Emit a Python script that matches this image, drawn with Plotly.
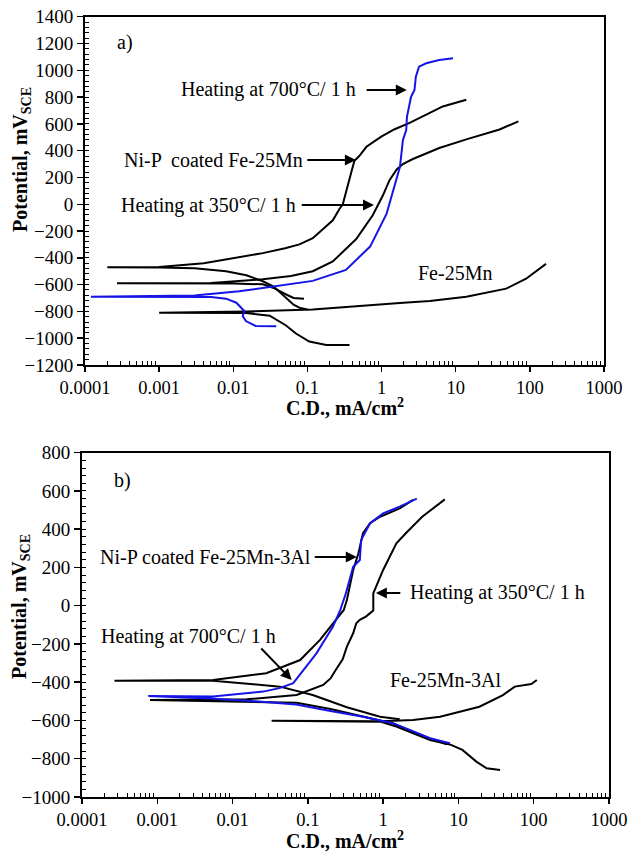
import numpy as np
import plotly.graph_objects as go

# ---------------- data: panel a) Fe-25Mn ----------------
a_nip_x = [0.1, 0.08, 0.065, 0.055, 0.045, 0.035, 0.025, 0.015, 0.008, 0.003, 0.001, 0.0002,
           0.001, 0.004, 0.009, 0.025, 0.05, 0.078, 0.118, 0.15, 0.22, 0.27, 0.3, 0.37, 0.43, 0.5,
           0.625, 0.99, 1.5, 2.39, 4.47, 6.7, 13.9]
a_nip_y = [-785, -775, -750, -715, -670, -615, -575, -530, -500, -478, -472, -470,
           -468, -440, -405, -365, -328, -300, -254, -205, -120, -35, 0, 190, 325, 360,
           429, 505, 560, 607, 681, 730, 780]

a_h350_x = [0.09, 0.065, 0.05, 0.035, 0.025, 0.01, 0.00027,
            0.005, 0.025, 0.06, 0.118, 0.22, 0.455, 0.76, 1.04, 1.28, 1.6, 1.94, 2.6, 6.0, 13.9, 39, 70]
a_h350_y = [-705, -700, -670, -625, -598, -592, -590,
            -588, -560, -535, -500, -427, -260, -82, 65, 180, 260, 300, 336, 420, 484, 558, 619]

a_h700_x = [0.038, 0.02, 0.0148, 0.0134, 0.0141, 0.011, 0.008, 0.005, 0.00012,
            0.003, 0.012, 0.0275, 0.118, 0.33, 0.7, 1.17, 1.58, 1.77, 1.94, 2.15, 2.2, 2.5, 2.78,
            2.9, 3.2, 4.0, 6.0, 9.2]
a_h700_y = [-910, -908, -872, -835, -797, -735, -705, -692, -690,
            -682, -650, -622, -572, -490, -316, -70, 173, 280, 479, 554, 653, 803, 853,
            952, 1027, 1052, 1077, 1089]

a_fe_x = [0.37, 0.18, 0.106, 0.07, 0.0515, 0.031, 0.015, 0.001,
          0.015, 0.118, 1.76, 4.47, 13.9, 48, 89, 165]
a_fe_y = [-1050, -1050, -1025, -965, -905, -832, -812, -810,
          -800, -785, -738, -722, -691, -630, -556, -445]

# ---------------- data: panel b) Fe-25Mn-3Al ----------------
b_nip_x = [1.66, 0.91, 0.33, 0.116, 0.0425, 0.0055, 0.00027,
           0.0055, 0.028, 0.079, 0.145, 0.24, 0.30, 0.33, 0.40, 0.47, 0.54, 0.67, 0.91, 1.66, 2.5]
b_nip_y = [-594, -580, -531, -467, -423, -392, -392,
           -388, -353, -284, -179, -74, -22, 30, 187, 274, 379, 431, 465, 509, 553]

b_h700_x = [7.7, 4.2, 1.35, 0.5, 0.2, 0.07, 0.02, 0.005, 0.00076,
            0.0055, 0.0255, 0.042, 0.064, 0.087, 0.13, 0.215, 0.27, 0.32, 0.40, 0.49, 0.51,
            0.67, 1.0, 1.66, 2.8]
b_h700_y = [-719, -693, -614, -578, -550, -517, -500, -485, -472,
            -475, -449, -431, -405, -336, -249, -110, -22, 65, 204, 239, 344,
            431, 483, 518, 560]

b_h350_x = [7.0, 4.2, 1.35, 0.54, 0.2, 0.071, 0.015, 0.0008,
            0.0154, 0.071, 0.16, 0.2, 0.24, 0.29, 0.33, 0.40, 0.44, 0.49, 0.59, 0.74, 0.74,
            0.81, 0.85, 1.0, 1.5, 2.0, 3.3, 6.6]
b_h350_y = [-725, -695, -616, -580, -540, -507, -502, -493,
            -489, -467, -414, -380, -330, -280, -214, -144, -92, -74, -57, -25, 65,
            100, 117, 187, 326, 379, 465, 556]

b_fe_x = [35.8, 23.7, 17.3, 11.3, 7.7, 4.2, 1.5, 0.91, 0.033,
          0.91, 2.5, 5.7, 19, 39, 56, 74, 93, 110]
b_fe_y = [-859, -850, -815, -754, -725, -702, -632, -606, -602,
          -604, -597, -580, -528, -467, -423, -414, -409, -388]

x_tickvals = [0.0001, 0.001, 0.01, 0.1, 1, 10, 100, 1000]
x_ticktext = ["0.0001", "0.001", "0.01", "0.1", "1", "10", "100", "1000"]

BLACK = "black"
BLUE = "#1414e6"
FONT = "Liberation Serif, Times New Roman, serif"
W, H = 631, 857

fig = go.Figure()

def add(x, y, color, xa, ya):
    fig.add_trace(go.Scatter(x=x, y=y, mode="lines", xaxis=xa, yaxis=ya,
                             line=dict(color=color, width=2), showlegend=False,
                             hoverinfo="skip"))

add(a_fe_x, a_fe_y, BLACK, "x", "y")
add(a_nip_x, a_nip_y, BLACK, "x", "y")
add(a_h350_x, a_h350_y, BLACK, "x", "y")
add(a_h700_x, a_h700_y, BLUE, "x", "y")

add(b_fe_x, b_fe_y, BLACK, "x2", "y2")
add(b_h350_x, b_h350_y, BLACK, "x2", "y2")
add(b_nip_x, b_nip_y, BLACK, "x2", "y2")
add(b_h700_x, b_h700_y, BLUE, "x2", "y2")

minor_x = [m * 10.0 ** e for e in range(-4, 3) for m in range(2, 10)]

def xaxis(domain, anchor):
    return dict(type="log", domain=domain, anchor=anchor, range=[-4, 3],
                tickmode="array", tickvals=x_tickvals, ticktext=x_ticktext,
                ticks="outside", ticklen=5, tickwidth=1.5, tickcolor=BLACK,
                minor=dict(tickmode="array", tickvals=minor_x, ticks="inside",
                           ticklen=4, tickwidth=1, tickcolor=BLACK),
                showline=True, linecolor=BLACK, linewidth=2, mirror=True,
                showgrid=False, zeroline=False, automargin=False,
                tickfont=dict(family=FONT, size=18.5, color=BLACK))

def yaxis(domain, anchor, rng):
    return dict(domain=domain, anchor=anchor, range=rng, dtick=200, tick0=0,
                ticks="outside", ticklen=6, tickwidth=1.5, tickcolor=BLACK,
                minor=dict(dtick=40, ticks="inside", ticklen=4, tickwidth=1, tickcolor=BLACK),
                showline=True, linecolor=BLACK, linewidth=2, mirror=True,
                showgrid=False, zeroline=False, automargin=False,
                tickfont=dict(family=FONT, size=19, color=BLACK))

fig.update_layout(
    width=W, height=H, margin=dict(l=0, r=0, t=0, b=0, pad=0, autoexpand=False),
    paper_bgcolor="white", plot_bgcolor="white",
    font=dict(family=FONT, color=BLACK),
    xaxis=xaxis([85 / W, 604 / W], "y"),
    yaxis=yaxis([1 - 365 / H, 1 - 16.7 / H], "x", [-1200, 1400]),
    xaxis2=xaxis([82 / W, 609 / W], "y2"),
    yaxis2=yaxis([1 - 797 / H, 1 - 452.7 / H], "x2", [-1000, 800]),
)

L = np.log10
ann = []

def text(xr, yr, x, y, s, xanchor="center", size=20):
    ann.append(dict(xref=xr, yref=yr, x=L(x), y=y, text=s, showarrow=False,
                    xanchor=xanchor, yanchor="middle",
                    font=dict(family=FONT, size=size, color=BLACK)))

def arrow(xr, yr, x0, y0, x1, y1):
    ann.append(dict(xref=xr, yref=yr, axref=xr, ayref=yr, x=L(x1), y=y1, ax=L(x0), ay=y0,
                    text="", showarrow=True, arrowhead=2, arrowsize=1.1, arrowwidth=2,
                    arrowcolor=BLACK, standoff=0, startstandoff=0))

# panel a)
text("x", "y", 0.00035, 1204, "a)")
text("x", "y", 0.48, 853, "Heating at 700°C/ 1 h", "right")
arrow("x", "y", 0.6, 853, 2.19, 853)
text("x", "y", 0.093, 330, "Ni-P  coated Fe-25Mn", "right")
arrow("x", "y", 0.095, 330, 0.45, 330)
text("x", "y", 0.074, -6, "Heating at 350°C/ 1 h", "right")
arrow("x", "y", 0.08, -6, 0.79, -6)
text("x", "y", 9.7, -514, "Fe-25Mn")

# panel b)
text("x2", "y2", 0.00035, 657, "b)")
text("x2", "y2", 0.116, 255, "Ni-P coated Fe-25Mn-3Al", "right")
arrow("x2", "y2", 0.118, 255, 0.447, 255)
text("x2", "y2", 2.12, 67, "Heating at 350°C/ 1 h", "left")
arrow("x2", "y2", 1.77, 67, 0.80, 67)
text("x2", "y2", 0.0026, -163, "Heating at 700°C/ 1 h")
arrow("x2", "y2", 0.023, -216, 0.061, -388)
text("x2", "y2", 6.8, -388, "Fe-25Mn-3Al")

# axis titles
for yy in [407 / H, 840 / H]:
    ann.append(dict(xref="paper", yref="paper", x=345 / W, y=1 - yy,
                    text="<b>C.D., mA/cm<sup>2</sup></b>", showarrow=False,
                    xanchor="center", yanchor="middle",
                    font=dict(family=FONT, size=20, color=BLACK)))
for xx, yy in [(21, 160), (20, 607)]:
    ann.append(dict(xref="paper", yref="paper", x=xx / W, y=1 - yy / H,
                    text="<b>Potential, mV<sub>SCE</sub></b>", showarrow=False,
                    textangle=-90, xanchor="center", yanchor="middle",
                    font=dict(family=FONT, size=20, color=BLACK)))

fig.update_layout(annotations=ann)
fig.write_html("out.html", config={"displayModeBar": False, "staticPlot": True},
               post_script="document.body.style.margin='0px';document.body.style.overflow='hidden';")
